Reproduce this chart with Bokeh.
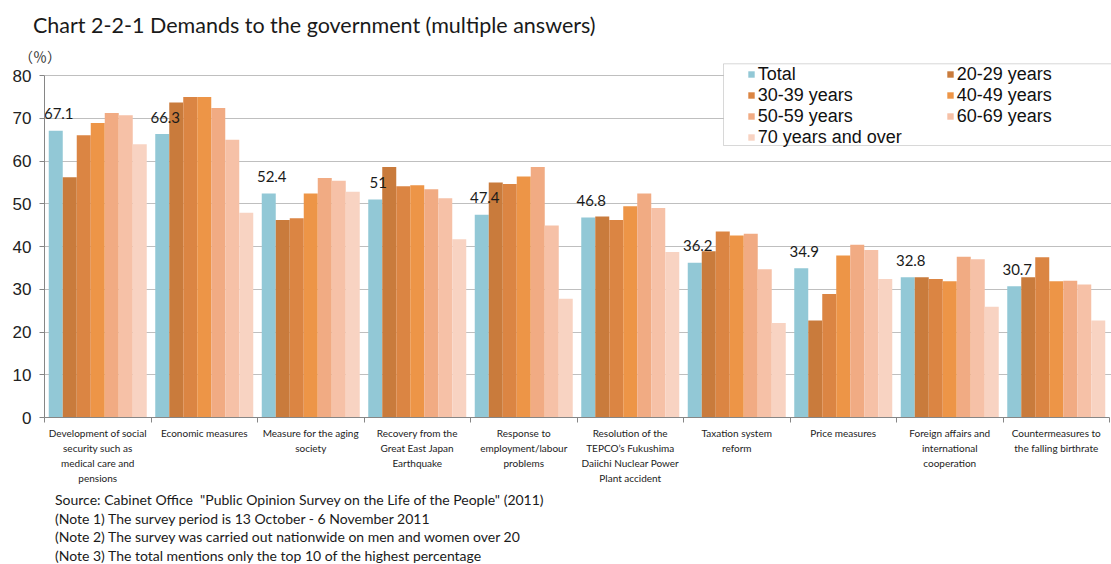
from bokeh.plotting import figure
from bokeh.models import (Range1d, LinearAxis, FixedTicker, Div,
                          Legend, LegendItem, BoxAnnotation, ColumnDataSource)
from bokeh.layouts import column
from bokeh.transform import dodge
from bokeh.core.properties import value
from bokeh.embed import file_html
from bokeh.resources import INLINE

# ---------------- data ----------------
categories = [
    "Development of social\nsecurity such as\nmedical care and\npensions",
    "Economic measures",
    "Measure for the aging\nsociety",
    "Recovery from the\nGreat East Japan\nEarthquake",
    "Response to\nemployment/labour\nproblems",
    "Resolution of the\nTEPCO\u2019s Fukushima\nDaiichi Nuclear Power\nPlant accident",
    "Taxation system\nreform",
    "Price measures",
    "Foreign affairs and\ninternational\ncooperation",
    "Countermeasures to\nthe falling birthrate",
]
series_names = ["Total", "20-29 years", "30-39 years", "40-49 years",
                "50-59 years", "60-69 years", "70 years and over"]
total       = [67.1, 66.3, 52.4, 51.0, 47.4, 46.8, 36.2, 34.9, 32.8, 30.7]
age_20_29   = [56.2, 73.7, 46.2, 58.6, 55.0, 47.0, 38.9, 22.7, 32.8, 32.8]
age_30_39   = [66.0, 75.0, 46.6, 54.1, 54.6, 46.2, 43.5, 28.9, 32.4, 37.5]
age_40_49   = [68.9, 75.0, 52.4, 54.3, 56.4, 49.4, 42.6, 37.9, 31.9, 31.9]
age_50_59   = [71.2, 72.4, 56.0, 53.4, 58.6, 52.4, 43.0, 40.4, 37.6, 32.0]
age_60_69   = [70.7, 65.0, 55.4, 51.3, 44.9, 49.0, 34.7, 39.2, 37.0, 31.1]
age_70_over = [63.9, 47.9, 52.8, 41.7, 27.8, 38.7, 22.1, 32.4, 25.9, 22.7]
y_ticks = [0, 10, 20, 30, 40, 50, 60, 70, 80]

title_text = "Chart 2-2-1 Demands to the government (multiple answers)"
unit_text = "\uff08\uff05\uff09"
notes = [
    'Source: Cabinet Office&nbsp;&nbsp;"Public Opinion Survey on the Life of the People" (2011)',
    "(Note 1) The survey period is 13 October - 6 November 2011",
    "(Note 2) The survey was carried out nationwide on men and women over 20",
    "(Note 3) The total mentions only the top 10 of the highest percentage",
]

colors = ["#92C8D6", "#C97B3C", "#DB8543", "#ED9547", "#F1AB83", "#F6C1A7", "#F8D3C2"]

# ---------------- source ----------------
n = len(categories)
centers = [i + 0.5 for i in range(n)]          # category slot centres on the x scale
bounds_x = list(range(n + 1))                  # category slot boundaries
cols = ["total", "a20", "a30", "a40", "a50", "a60", "a70"]
src = ColumnDataSource(dict(
    pos=centers,
    total=total, a20=age_20_29, a30=age_30_39, a40=age_40_49,
    a50=age_50_59, a60=age_60_69, a70=age_70_over,
    total_label=[f"{v:g}" for v in total],
))

# ---------------- layout geometry (screen px) ----------------
PAGE_W = 1111
TOP_H = 62            # header block height
FIG_H = 428           # figure height
BOT_H = 564 - TOP_H - FIG_H
FRAME_L = 44          # frame left edge
SLOT = 106.5          # width of one category slot
FRAME_B = 417         # screen y of value 0
Y80 = 75              # screen y of value 80
MB = TOP_H + FIG_H - FRAME_B
px_per_unit = (FRAME_B - Y80) / 80.0
y_end = (FRAME_B - TOP_H) / px_per_unit
x_end = (PAGE_W - FRAME_L) / SLOT

p = figure(width=PAGE_W, height=FIG_H, x_range=Range1d(0, x_end),
           y_range=Range1d(0, y_end), output_backend="svg", toolbar_location=None,
           x_axis_location=None, min_border_left=FRAME_L, min_border_right=0,
           min_border_top=0, min_border_bottom=MB)
p.outline_line_color = None
p.background_fill_alpha = 0
p.border_fill_alpha = 0
p.xgrid.visible = False

# y axis
yax = p.yaxis[0]
yax.ticker = FixedTicker(ticks=y_ticks)
yax.bounds = (0, 80)
yax.minor_tick_line_color = None
yax.major_tick_out = 5
yax.major_tick_in = 0
yax.axis_line_color = "#868686"
yax.major_tick_line_color = "#868686"
yax.major_label_text_font = "Liberation Sans"
yax.major_label_text_font_size = "17px"
yax.major_label_text_color = "#222222"
yax.major_label_standoff = 8
p.ygrid.grid_line_color = "#BFBFBF"
p.ygrid.grid_line_width = 1
p.ygrid.ticker = FixedTicker(ticks=y_ticks)

# x axis: names at slot centres, boundary tick marks as minor ticks
xax = LinearAxis(ticker=FixedTicker(ticks=centers, minor_ticks=bounds_x),
                 bounds=(0, n),
                 axis_line_color="#868686",
                 major_tick_line_color=None, major_tick_out=0, major_tick_in=0,
                 minor_tick_line_color="#868686", minor_tick_out=5, minor_tick_in=0,
                 major_label_overrides={c: lab for c, lab in zip(centers, categories)},
                 major_label_text_font="Lato", major_label_text_font_size="10px",
                 major_label_text_color="#222222",
                 major_label_text_line_height=1.25,
                 major_label_standoff=4)
p.add_layout(xax, "below")

# bars
bw = 14 / SLOT
renderers = []
for i, (c, col) in enumerate(zip(cols, colors)):
    r = p.vbar(x=dodge("pos", (i - 3) * bw), top=c, width=bw,
               source=src, fill_color=col, line_color=None)
    renderers.append(r)

# data labels on Total
p.text(x=dodge("pos", -3 * bw), y="total", text="total_label", source=src,
       text_align="center", text_baseline="alphabetic", y_offset=-17, x_offset=3,
       text_font=value("Lato"), text_font_size="15px", text_color="#1a1a1a")

# legend box + legend
box = BoxAnnotation(left=723 - FRAME_L, right=1300, top=FRAME_B - 63.3, bottom=FRAME_B - 145,
                    left_units="screen", right_units="screen", top_units="screen",
                    bottom_units="screen", fill_color="white", fill_alpha=1.0,
                    line_color="#7F7F7F", line_width=1)
p.add_layout(box)
legend = Legend(items=[LegendItem(label=s, renderers=[r]) for s, r in zip(series_names, renderers)],
                location=(746.7 - FRAME_L, FRAME_B - 147.5), orientation="horizontal", ncols=2,
                border_line_color=None, background_fill_alpha=0, padding=0, spacing=0,
                margin=0, glyph_width=8, glyph_height=8, label_standoff=3,
                label_width=188, label_height=20,
                label_text_font="Liberation Sans", label_text_font_size="18px",
                label_text_color="#111111")
p.add_layout(legend)

# header: title and unit
header_html = (
    f'<div style="position:relative;width:{PAGE_W}px;height:{TOP_H}px;overflow:visible;">'
    f'<span style="position:absolute;left:33px;top:11px;font-family:Lato;font-size:21.5px;'
    f'line-height:28px;color:#1a1a1a;white-space:nowrap;">{title_text}</span>'
    f'<span style="position:absolute;left:19px;top:49px;'
    f'font-family:\'Noto Sans CJK JP\',\'Noto Sans CJK SC\',sans-serif;'
    f'font-size:14px;line-height:14px;color:#333333;white-space:nowrap;">{unit_text}</span>'
    '</div>'
)
header = Div(text=header_html, width=PAGE_W, height=TOP_H, margin=0)

# footer: source and notes
lines = "".join(
    f'<div style="height:18.5px;line-height:18.5px;white-space:nowrap;">{t}</div>' for t in notes)
footer_html = (
    f'<div style="position:relative;width:{PAGE_W}px;height:{BOT_H}px;padding-left:55px;'
    f'padding-top:1px;box-sizing:border-box;font-family:Lato;font-size:14px;color:#1a1a1a;">'
    f'{lines}</div>'
)
footer = Div(text=footer_html, width=PAGE_W, height=BOT_H, margin=0)

layout = column(header, p, footer, spacing=0)
open("out.html", "w").write(file_html(layout, INLINE))
